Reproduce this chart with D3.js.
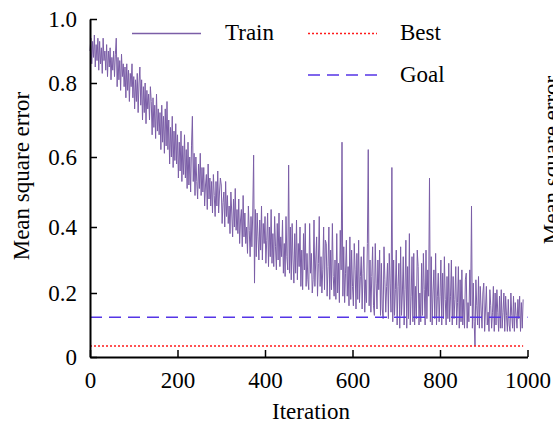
<!DOCTYPE html>
<html>
<head>
<meta charset="utf-8">
<script src="https://cdn.jsdelivr.net/npm/d3@7/dist/d3.min.js"></script>
<style>
  body { margin: 0; background: #fff; }
  svg { display: block; }
  svg text { font-family: "Liberation Serif", "Times New Roman", Times, "DejaVu Serif", serif; }
</style>
</head>
<body>
<svg id="chart" width="553" height="424"></svg>
<script>
// training error, one value every `step` iterations
const step = 2;
const trainMse = [
  0.90, 0.94, 0.86, 0.93, 0.88, 0.95, 0.85, 0.92, 0.87, 0.94,
  0.84, 0.93, 0.86, 0.91, 0.83, 0.94, 0.87, 0.90, 0.84, 0.92,
  0.82, 0.90, 0.85, 0.91, 0.81, 0.88, 0.84, 0.90, 0.82, 0.89,
  0.94, 0.79, 0.88, 0.81, 0.87, 0.78, 0.89, 0.82, 0.86, 0.79,
  0.85, 0.76, 0.86, 0.78, 0.84, 0.75, 0.83, 0.79, 0.86, 0.76,
  0.82, 0.73, 0.81, 0.75, 0.83, 0.72, 0.80, 0.85, 0.74, 0.81,
  0.70, 0.79, 0.72, 0.80, 0.69, 0.78, 0.73, 0.77, 0.70, 0.79,
  0.75, 0.66, 0.76, 0.68, 0.74, 0.65, 0.77, 0.67, 0.73, 0.66,
  0.72, 0.62, 0.74, 0.64, 0.71, 0.61, 0.73, 0.63, 0.75, 0.62,
  0.70, 0.58, 0.68, 0.60, 0.71, 0.57, 0.67, 0.59, 0.69, 0.58,
  0.66, 0.54, 0.64, 0.56, 0.67, 0.53, 0.63, 0.55, 0.66, 0.54,
  0.62, 0.51, 0.64, 0.52, 0.60, 0.50, 0.63, 0.71, 0.53, 0.61,
  0.49, 0.60, 0.53, 0.48, 0.58, 0.51, 0.61, 0.49, 0.57, 0.50,
  0.57, 0.46, 0.52, 0.55, 0.45, 0.58, 0.48, 0.54, 0.46, 0.53,
  0.44, 0.55, 0.49, 0.43, 0.53, 0.46, 0.56, 0.44, 0.50, 0.54,
  0.52, 0.41, 0.47, 0.50, 0.40, 0.53, 0.43, 0.49, 0.41, 0.46,
  0.38, 0.50, 0.44, 0.37, 0.48, 0.40, 0.51, 0.39, 0.45, 0.38,
  0.48, 0.35, 0.42, 0.45, 0.34, 0.49, 0.37, 0.44, 0.35, 0.40,
  0.32, 0.46, 0.39, 0.31, 0.43, 0.34, 0.44, 0.605, 0.23, 0.45,
  0.31, 0.44, 0.37, 0.30, 0.42, 0.33, 0.46, 0.30, 0.41, 0.35,
  0.43, 0.29, 0.36, 0.44, 0.28, 0.40, 0.31, 0.45, 0.29, 0.38,
  0.28, 0.43, 0.34, 0.27, 0.41, 0.30, 0.44, 0.28, 0.37, 0.31,
  0.42, 0.26, 0.35, 0.25, 0.43, 0.31, 0.27, 0.577, 0.26, 0.40,
  0.24, 0.41, 0.30, 0.23, 0.38, 0.26, 0.42, 0.24, 0.35, 0.28,
  0.40, 0.22, 0.33, 0.21, 0.38, 0.27, 0.41, 0.22, 0.32, 0.24,
  0.21, 0.41, 0.26, 0.32, 0.20, 0.24, 0.42, 0.22, 0.30, 0.37,
  0.19, 0.29, 0.43, 0.22, 0.31, 0.20, 0.27, 0.40, 0.21, 0.36,
  0.35, 0.19, 0.28, 0.40, 0.18, 0.33, 0.21, 0.41, 0.25, 0.19,
  0.30, 0.18, 0.38, 0.20, 0.29, 0.17, 0.39, 0.27, 0.64, 0.19,
  0.34, 0.17, 0.26, 0.36, 0.19, 0.28, 0.16, 0.37, 0.18, 0.33,
  0.22, 0.16, 0.35, 0.27, 0.15, 0.32, 0.18, 0.36, 0.17, 0.25,
  0.31, 0.15, 0.26, 0.34, 0.14, 0.24, 0.17, 0.35, 0.62, 0.16,
  0.30, 0.14, 0.25, 0.34, 0.16, 0.13, 0.35, 0.23, 0.15, 0.30,
  0.21, 0.33, 0.13, 0.29, 0.15, 0.12, 0.34, 0.24, 0.14, 0.22,
  0.29, 0.12, 0.32, 0.23, 0.14, 0.57, 0.11, 0.30, 0.13, 0.21,
  0.33, 0.10, 0.22, 0.29, 0.09, 0.34, 0.13, 0.20, 0.31, 0.10,
  0.21, 0.36, 0.09, 0.28, 0.12, 0.38, 0.10, 0.19, 0.31, 0.11,
  0.32, 0.10, 0.22, 0.12, 0.33, 0.28, 0.10, 0.20, 0.11, 0.29,
  0.13, 0.32, 0.21, 0.10, 0.33, 0.12, 0.27, 0.19, 0.54, 0.11,
  0.31, 0.10, 0.20, 0.27, 0.12, 0.32, 0.10, 0.19, 0.26, 0.11,
  0.19, 0.30, 0.10, 0.26, 0.12, 0.31, 0.18, 0.10, 0.25, 0.12,
  0.29, 0.11, 0.19, 0.30, 0.10, 0.25, 0.12, 0.18, 0.28, 0.10,
  0.17, 0.28, 0.09, 0.24, 0.11, 0.27, 0.10, 0.18, 0.09, 0.24,
  0.26, 0.09, 0.17, 0.11, 0.27, 0.16, 0.46, 0.09, 0.23, 0.11,
  0.034, 0.24, 0.16, 0.10, 0.25, 0.09, 0.22, 0.15, 0.09, 0.20,
  0.23, 0.08, 0.15, 0.22, 0.10, 0.14, 0.08, 0.21, 0.16, 0.09,
  0.14, 0.22, 0.08, 0.20, 0.10, 0.21, 0.14, 0.08, 0.19, 0.09,
  0.21, 0.09, 0.14, 0.20, 0.08, 0.19, 0.13, 0.08, 0.18, 0.10,
  0.08, 0.20, 0.13, 0.09, 0.19, 0.08, 0.17, 0.13, 0.09, 0.18,
  0.12, 0.19, 0.08, 0.17, 0.09, 0.18
];
const bestMse = 0.034;
const goalMse = 0.124;
const bestEnd = 990;
const goalEnd = 1000;

const xTicks = [0, 200, 400, 600, 800, 1000];
const yTicks = [0, 0.2, 0.4, 0.6, 0.8, 1.0];
const yTickLabels = ['0', '0.2', '0.4', '0.6', '0.8', '1.0'];

const legendItems = [
  { label: 'Train', key: 'train' },
  { label: 'Best', key: 'best' },
  { label: 'Goal', key: 'goal' }
];

const colors = { train: '#7b5ea7', best: '#ff1a1a', goal: '#5535e6' };
const dash = { train: null, best: '2,2', goal: '12,7' };

const svg = d3.select('#chart');
const fontSize = 23;

const x = d3.scaleLinear().domain([0, 1000]).range([90, 527.5]);
// tick spacing in the picture is slightly uneven, so the scale follows it
const y = d3.scaleLinear().domain(yTicks).range([357, 293, 227, 157, 83, 19]);

// data lines
const trainLine = d3.line()
  .x((d, i) => x(i * step))
  .y(d => y(d));

svg.append('path')
  .datum(trainMse)
  .attr('fill', 'none')
  .attr('stroke', colors.train)
  .attr('stroke-width', 1)
  .attr('stroke-linejoin', 'bevel')
  .attr('d', trainLine);

svg.append('line')
  .attr('x1', x(0)).attr('x2', x(bestEnd))
  .attr('y1', y(bestMse)).attr('y2', y(bestMse))
  .attr('stroke', colors.best)
  .attr('stroke-width', 1.5)
  .attr('stroke-dasharray', dash.best);

svg.append('line')
  .attr('x1', x(0)).attr('x2', x(goalEnd))
  .attr('y1', y(goalMse)).attr('y2', y(goalMse))
  .attr('stroke', colors.goal)
  .attr('stroke-width', 1.5)
  .attr('stroke-dasharray', dash.goal);

// axes
const xAxis = svg.append('g')
  .attr('transform', `translate(0,${y(0)})`)
  .call(d3.axisBottom(x).tickValues(xTicks).tickFormat(d3.format('d'))
    .tickSizeInner(-7).tickSizeOuter(0).tickPadding(15));

const yAxis = svg.append('g')
  .attr('transform', `translate(${x(0)},0)`)
  .call(d3.axisLeft(y).tickValues(yTicks).tickFormat((d, i) => yTickLabels[i])
    .tickSizeInner(-7).tickSizeOuter(0).tickPadding(13));

[xAxis, yAxis].forEach(ax => {
  ax.attr('font-family', null).attr('font-size', null);
  ax.select('.domain').attr('stroke', '#000').attr('stroke-width', 2);
  ax.selectAll('.tick line').attr('stroke', '#000').attr('stroke-width', 1.5);
  ax.selectAll('.tick text')
    .attr('fill', '#000')
    .style('font-size', fontSize + 'px');
});

// axis titles
svg.append('text')
  .attr('x', 311)
  .attr('y', 419)
  .attr('text-anchor', 'middle')
  .style('font-size', fontSize + 'px')
  .text('Iteration');

svg.append('text')
  .attr('transform', 'translate(29,176) rotate(-90)')
  .attr('text-anchor', 'middle')
  .style('font-size', fontSize + 'px')
  .text('Mean square error');

// neighbouring panel's axis title, clipped at the right edge as in the source
svg.append('text')
  .attr('transform', 'translate(559,160) rotate(-90)')
  .attr('text-anchor', 'middle')
  .style('font-size', fontSize + 'px')
  .text('Mean square error');

// legend
const legendPos = {
  train: { x1: 132, x2: 201, y: 33.5, tx: 225, ty: 40 },
  best: { x1: 308, x2: 377, y: 33.5, tx: 400, ty: 40 },
  goal: { x1: 308, x2: 377, y: 75, tx: 400, ty: 82 }
};

const legend = svg.append('g');
legendItems.forEach(item => {
  const p = legendPos[item.key];
  legend.append('line')
    .attr('x1', p.x1).attr('x2', p.x2)
    .attr('y1', p.y).attr('y2', p.y)
    .attr('stroke', colors[item.key])
    .attr('stroke-width', 1.5)
    .attr('stroke-dasharray', dash[item.key]);
  legend.append('text')
    .attr('x', p.tx)
    .attr('y', p.ty)
    .style('font-size', fontSize + 'px')
    .text(item.label);
});
</script>
</body>
</html>
